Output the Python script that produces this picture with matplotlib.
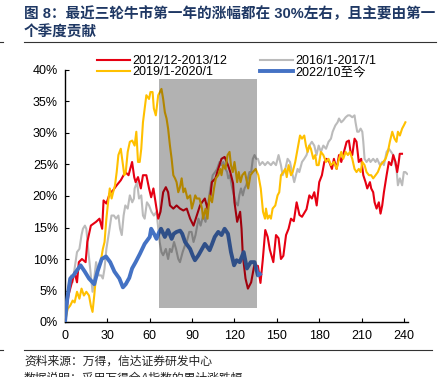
import matplotlib
matplotlib.use('Agg')
import matplotlib.pyplot as plt
from matplotlib.patches import Rectangle
from matplotlib.ticker import FuncFormatter

plt.rcParams['font.family'] = ['Liberation Sans', 'Noto Sans CJK SC']
plt.rcParams['axes.unicode_minus'] = False

# 累计涨跌幅 (%), 横轴为交易日序号
red_day = [0, 2.4, 4.9, 6.8, 8.5, 9.8, 12, 14.6, 15.8, 18.3, 22, 24.4, 26.3, 27.3, 29.3, 31.7, 34, 36.6,
           39.5, 42.7, 45, 47.5, 49, 50, 51.7, 53.7, 55.2, 57.6, 59.5, 61, 62.6, 64.8, 66, 67.6, 69.5,
           71.4, 73, 74.3, 76.7, 79, 81.4, 83.8, 86.2, 88.6, 91, 93.3, 95.6, 97, 99, 100.9, 103, 104,
           106.5, 108.5, 110.8, 113, 115.4, 117, 119, 120, 121.9, 124, 125, 125.9, 127.8, 129.5, 131.8,
           134, 136.6, 138.4, 140, 141.8, 143.5, 145, 147.5, 149.4, 151.2, 152.9, 154.6, 156.5, 158.3,
           160, 162, 164, 166, 167.8, 169.4, 171, 173, 174.8, 176.5, 178.2, 180, 181.9, 183.6, 185.2,
           187.1, 189, 190.4, 192.3, 194, 195.6, 197.5, 199.4, 201, 202.2, 203.4, 205, 206.4, 208,
           209.7, 211.2, 212.8, 214, 215.9, 216.8, 218.2, 219.2, 220.6, 222.2, 223.4, 224.6, 225.8,
           227.7, 229.3, 231, 232.4, 234, 235.2, 236.3, 237, 238.6]
red_pct = [0, 4.2, 6.3, 7.9, 6.3, 9.5, 10.0, 9.5, 12.7, 15.3, 15.9, 16.4, 14.8, 19.3, 18.8, 20.4, 20.9, 21.7,
           22.5, 23.8, 23.3, 25.4, 23.0, 22.2, 23.0, 21.2, 23.3, 23.3, 21.2, 19.8, 21.2, 18.0, 16.4, 17.5, 20.6,
           21.4, 20.6, 18.5, 18.0, 18.5, 18.0, 17.7, 18.0, 16.4, 15.3, 16.9, 18.5, 19.0, 19.6, 18.0, 20.1, 22.2,
           22.8, 24.3, 25.9, 26.2, 24.9, 23.8, 22.0, 19.0, 15.9, 17.5, 14.8, 10.6, 6.9, 5.3, 6.3,
           9.0, 8.9, 6.2, 9.8, 14.6, 13.5, 11.5, 9.5, 13.8, 13.3, 10.0, 10.5, 13.8, 14.8,
           16.4, 16.0, 19.0, 17.0, 16.7, 17.3, 17.9, 20.1, 19.6, 20.6, 18.5, 22.2, 23.3, 25.4, 25.9,
           25.4, 24.3, 25.9, 24.3, 26.5, 25.4, 27.0, 28.6, 28.8, 27.0, 26.5, 29.1, 28.6, 25.4,
           25.9, 23.3, 22.2, 21.2, 22.2, 21.2, 20.6, 19.0, 18.0, 19.0, 17.2, 18.5, 20.6,
           23.3, 25.4, 24.9, 26.5, 25.4, 23.8, 25.4, 26.7, 26.7]

yellow_day = [0, 1.9, 3.7, 5.4, 6.8, 8.5, 10.2, 11.7, 13.4, 15.1, 17, 18.3, 19.5, 20.7, 22, 23.9, 25.6,
              26.8, 28, 29.3, 30.5, 31.7, 33, 34.1, 35.4, 36.6, 37.8, 39.5, 41, 42, 43, 44.4, 45.9, 47.6,
              49.3, 50.5, 51.7, 52.9, 54, 55.2, 56.4, 57.6, 59.5, 60.5, 62, 62.9, 64.3, 66, 67.2, 68.3,
              69.5, 70.7, 71.9, 73, 74.3, 75.5, 76.7, 77.9, 79, 80.2, 81.4, 82.6, 83.8, 85, 86.7, 88.6,
              89.8, 91, 92.2, 93.3, 95.2, 97, 97.8, 99.5, 100.9, 102.4, 104.1, 105.5, 106.8, 108.5, 109.9,
              110.8, 112, 113.6, 115.1, 116.5, 117.5, 118.8, 120, 121, 121.9, 123, 124.3, 125.5, 127.4,
              128.3, 129.7, 131.3, 133, 135, 136.9, 138.6, 140.2, 141.6, 142.3, 143.5, 144.7, 145.8, 147,
              148.9, 150.5, 151.7, 152.9, 154.6, 156, 157, 158.3, 160, 161.2, 163, 164.7, 166.4, 167.8,
              169.4, 170.6, 171.8, 173, 174.1, 175.8, 177.2, 178.2, 179.6, 181.2, 182.9, 184.8, 186.6,
              188.3, 190.4, 192.3, 194, 195.6, 197, 198.7, 200.3, 201.7, 203.4, 205, 206.4, 208, 209.3,
              210.5, 212.1, 213.5, 215.2, 216.8, 218.2, 219.9, 221.5, 223.4, 225.3, 227, 228.6, 230,
              231.7, 233.3, 234.7, 235.7, 237.1, 238.7, 239.9, 241]
yellow_pct = [0, 2.1, 2.6, 3.4, 3.1, 4.8, 3.7, 5.3, 4.2, 4.8, 4.2, 2.6, 1.6, 4.2, 7.4, 8.5, 10.0,
              11.6, 12.7, 16.4, 19.0, 21.2, 19.6, 20.6, 21.7, 23.8, 26.5, 27.5, 24.9, 23.3, 23.8, 27.0, 28.6, 28.8,
              28.0, 30.2, 25.4, 25.4, 27.5, 31.7, 33.9, 36.0, 35.4, 36.5, 36.5, 33.9, 32.8, 36.0, 36.5, 37.0,
              35.4, 33.3, 32.3, 30.7, 28.0, 25.9, 23.3, 22.8, 22.2, 20.6, 21.4, 22.8, 20.6, 21.2, 19.6, 20.1,
              18.0, 19.0, 20.1, 19.6, 19.6, 18.0, 16.4, 18.0, 16.4, 20.1, 19.0, 21.2, 22.8, 23.3, 24.3,
              23.3, 24.9, 24.3, 26.5, 27.0, 24.9, 23.8, 25.4, 23.8, 22.2, 23.8, 22.2, 23.3, 23.8,
              22.8, 21.2, 23.3, 23.8, 24.3, 23.3, 21.2, 17.5, 16.4, 18.0, 16.4, 16.9, 16.4, 18.0,
              18.5, 20.1, 20.6, 23.3, 23.8, 24.3, 23.0, 24.9, 23.3, 23.8, 25.4, 27.5, 29.6, 29.1,
              29.6, 28.0, 27.0, 28.0, 27.5, 25.9, 26.5, 24.9, 24.9, 27.0, 26.5, 25.4, 25.9,
              24.9, 25.4, 24.3, 25.9, 27.0, 25.9, 27.0, 26.5, 27.0, 25.9, 24.3, 23.8, 24.3, 23.8,
              25.4, 24.9, 23.8, 23.3, 23.3, 22.8, 23.3, 23.8, 24.9, 25.4, 25.9, 27.0, 28.6,
              30.2, 29.1, 28.6, 30.2, 29.6, 30.7, 31.2, 31.7]

gray_day = [0, 1.2, 3, 4.4, 5.4, 6.8, 8.5, 10.2, 11.7, 12.7, 14.1, 15.1, 16.6, 18.3, 19.5, 20.7, 22, 23.9,
            25.6, 26.8, 28, 29.3, 31.2, 32.9, 34.6, 36.1, 37.8, 39, 40.2, 41.5, 42.7, 44.4, 45.9, 47.6, 48.8,
            49.3, 51, 52.4, 54, 55.2, 56.4, 58, 59.5, 61.2, 62.9, 64.8, 66, 67, 68.3, 69.5, 71.4, 73, 74.3,
            75.5, 77.2, 78.6, 80.2, 81.4, 83.3, 85, 86.2, 88, 89.6, 91, 92.4, 94.5, 96, 97.8, 99.5, 101.2,
            102.9, 104.6, 106.3, 107.7, 109.4, 110.6, 112.1, 113.6, 114.8, 115.6, 116.8, 118, 119.1, 120.8,
            122.4, 123.4, 124.6, 125.9, 127.1, 128.3, 129.5, 130.6, 131.8, 133, 134.2, 135.4, 136.6, 137.9,
            139.8, 141.6, 143.5, 145.8, 147.5, 149.4, 151.2, 152.9, 154.1, 156, 157.6, 159.3, 160.7, 162.3,
            163.5, 164.7, 165.9, 167.8, 169.4, 171, 173, 174.8, 176.5, 178.1, 179.6, 181.2, 182.9, 184.8,
            186.6, 188.3, 189.5, 191.4, 193, 194, 195.6, 197, 198.7, 200.3, 201.7, 203.4, 205, 205.7, 206.9,
            208, 209.3, 210.5, 211.2, 212.1, 213.5, 215.2, 216.3, 218.2, 219.9, 221, 223, 224.6, 225.8,
            227.7, 229.3, 230.9, 232.4, 233.3, 234.7, 235.7, 237.1, 238.7, 239.9, 241, 242.3]
gray_pct = [0, 4.0, 6.3, 7.4, 6.3, 8.5, 11.1, 11.6, 13.8, 14.8, 15.3, 14.8, 11.1, 7.4, 4.8, 6.9, 9.5, 7.4,
            7.4, 6.9, 8.5, 11.6, 14.3, 16.9, 16.9, 16.4, 16.9, 14.8, 13.8, 16.9, 18.5, 18.0, 20.1, 19.0, 19.6,
            21.2, 22.2, 19.6, 20.1, 16.9, 16.4, 19.0, 18.5, 17.5, 16.9, 17.5, 14.8, 12.7, 11.1, 10.6, 11.6, 10.0, 11.6,
            11.1, 12.7, 11.6, 10.0, 9.5, 11.1, 12.2, 12.7, 14.3, 14.3, 12.7, 13.8, 16.4, 15.3, 16.9, 15.9, 18.5,
            21.2, 23.3, 23.8, 24.3, 25.4, 24.9, 25.4, 24.3, 23.8, 22.8, 23.3, 21.7, 20.6, 19.0,
            18.5, 20.1, 21.2, 20.1, 21.2, 21.7, 22.8, 23.8, 23.8, 25.9, 26.5, 25.9, 25.9, 24.9,
            25.4, 24.9, 25.4, 24.9, 25.4, 24.9, 26.5, 24.9, 23.3, 24.3, 25.9, 25.4, 23.8, 22.2,
            23.3, 24.3, 23.8, 25.4, 25.9, 26.5, 28.0, 28.6, 28.0, 26.5, 28.0, 27.0, 28.0, 27.5,
            28.6, 29.1, 30.2, 31.2, 31.7, 32.3, 31.7, 32.0, 32.5, 32.8, 32.8, 32.5, 32.8, 31.7, 30.2,
            30.2, 30.7, 30.2, 28.6, 25.9, 25.4, 25.9, 25.4, 25.9, 25.4, 25.9, 24.9, 25.4, 24.9,
            27.0, 27.5, 27.0, 26.5, 25.4, 24.3, 21.7, 22.8, 21.7, 23.8, 23.8, 23.5]

blue_day = [0, 1.5, 3.7, 6, 8.5, 11, 14, 17, 20.7, 23, 26, 29, 32, 35, 38.5, 41, 43, 45.5, 47.5, 50, 53,
            56.4, 60, 61, 63, 64.8, 66.5, 68, 70.7, 73, 75.5, 77, 79, 81.5, 83, 85, 88.6, 90.5, 92, 94.5,
            97, 99, 102.4, 104, 106, 108.5, 110.8, 113, 115.4, 117.5, 119.7, 121.5, 123.7, 126.5, 128.8,
            131.5, 134.2, 136.6, 138]
blue_pct = [0, 3.5, 6.9, 7.4, 8.2, 9.0, 8.0, 6.9, 6.0, 8.0, 10.0, 10.4, 9.5, 8.0, 6.9, 5.5, 6.0, 7.0, 8.5, 9.5, 10.8,
            12.4, 13.5, 14.8, 14.0, 13.2, 14.2, 14.8, 13.5, 14.6, 13.2, 14.0, 14.3, 14.5, 14.0, 12.7, 11.6, 10.5, 9.8, 10.6,
            11.6, 12.4, 11.4, 12.3, 13.5, 14.3, 13.8, 14.8, 14.0, 11.1, 9.0, 9.8, 9.5, 11.1, 8.5,
            9.5, 9.5, 7.4, 7.6]

labels = ['2012/12-2013/12', '2019/1-2020/1', '2016/1-2017/1', '2022/10至今']
colors = ['#E60012', '#FFC000', '#BBBBBB', '#4472C4']

# 阴影区间 (第一个季度之后)
shade_start, shade_end = 66.5, 135.7
shade_low, shade_high = 2.2, 38.6

fig = plt.figure(figsize=(4.44, 3.77), dpi=100)
ax = fig.add_axes([65 / 444, 1 - 322 / 377, 342.5 / 444, 252 / 377])

ax.plot(gray_day, gray_pct, color=colors[2], lw=1.5, label=labels[2], zorder=2)
ax.plot(red_day, red_pct, color=colors[0], lw=1.5, label=labels[0], zorder=3)
ax.plot(yellow_day, yellow_pct, color=colors[1], lw=1.5, label=labels[1], zorder=4)
ax.plot(blue_day, blue_pct, color=colors[3], lw=2.8, label=labels[3], zorder=5)

ax.add_patch(Rectangle((shade_start, shade_low), shade_end - shade_start, shade_high - shade_low,
                       facecolor='black', alpha=0.3, edgecolor='none', zorder=6))

ax.set_xlim(0, 242.5)
ax.set_ylim(0, 40)
ax.set_xticks(range(0, 241, 30))
ax.set_yticks(range(0, 41, 5))
ax.yaxis.set_major_formatter(FuncFormatter(lambda v, p: f'{v:.0f}%'))
for side in ['top', 'right']:
    ax.spines[side].set_visible(False)
for side in ['left', 'bottom']:
    ax.spines[side].set_linewidth(1.0)
ax.tick_params(axis='both', direction='in', length=3, labelsize=9, colors='black')
ax.tick_params(axis='x', pad=6)
ax.tick_params(axis='y', pad=5)

handles, labs = ax.get_legend_handles_labels()
order = [labs.index(l) for l in labels]
fig.legend([handles[i] for i in order], labels, ncol=2, loc='upper left',
           bbox_to_anchor=(97 / 444, 1 - 55 / 377), frameon=False, fontsize=9,
           handlelength=2.6, handletextpad=0.25, columnspacing=2.6, labelspacing=-0.05,
           borderpad=0, borderaxespad=0)

title_color = '#1F3864'
fig.text(24 / 444, 1 - 14 / 377, '图 8：最近三轮牛市第一年的涨幅都在 30%左右，且主要由第一',
         fontsize=10.5, fontweight='bold', color=title_color, va='center', ha='left')
fig.text(24 / 444, 1 - 33 / 377, '个季度贡献',
         fontsize=10.5, fontweight='bold', color=title_color, va='center', ha='left')
fig.add_artist(plt.Line2D([24 / 444, 436 / 444], [1 - 42 / 377] * 2, color='#333333', lw=0.8))
fig.add_artist(plt.Line2D([0, 3 / 444], [1 - 42 / 377] * 2, color='#333333', lw=0.8))
fig.add_artist(plt.Line2D([24 / 444, 432 / 444], [1 - 350 / 377] * 2, color='#333333', lw=0.8))
fig.add_artist(plt.Line2D([0, 3 / 444], [1 - 350 / 377] * 2, color='#333333', lw=0.8))

fig.text(24 / 444, 1 - 362 / 377, '资料来源：万得，信达证券研发中心',
         fontsize=8.5, color='#222222', va='center', ha='left', style='italic')
fig.text(24 / 444, 1 - 379 / 377, '数据说明：采用万得全A指数的累计涨跌幅',
         fontsize=8.5, color='#222222', va='center', ha='left', style='italic')

fig.savefig('out.png', dpi=100)
